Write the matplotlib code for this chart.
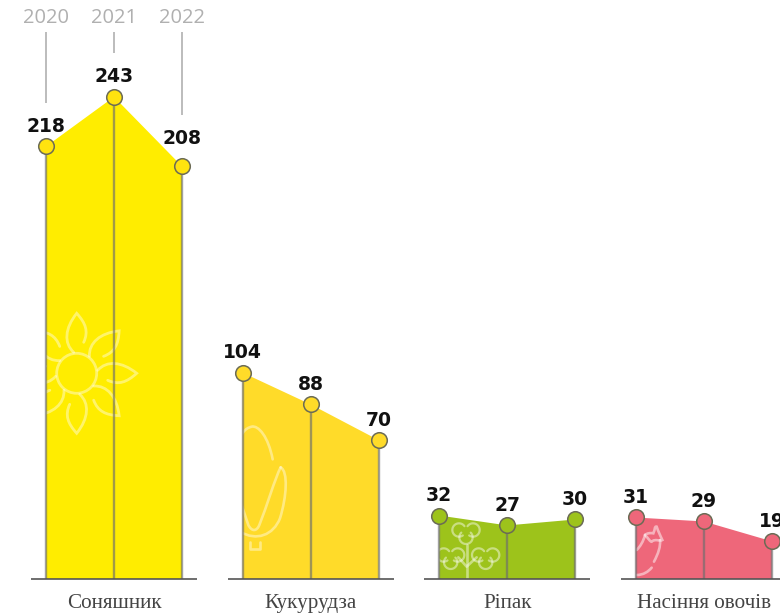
import numpy as np
import matplotlib
matplotlib.use("Agg")
import matplotlib.pyplot as plt
from matplotlib.patches import Polygon, PathPatch, Circle
from matplotlib.path import Path
from matplotlib.transforms import Affine2D

crops = ["Соняшник", "Кукурудза", "Ріпак", "Насіння овочів"]
years = ["2020", "2021", "2022"]
values = [[218, 243, 208], [104, 88, 70], [32, 27, 30], [31, 29, 19]]
fills = ["#FFED00", "#FFDB29", "#9DC31B", "#EE677A"]
marker_fills = ["#FFE30F", "#FFDB29", "#9DC31B", "#EE677A"]
year_line_ends = [240, 265, 234]
label_lift = [[0, 0, 6], [0, 0, 0], [0, 0, 0], [0, 0, 0]]

W, H = 780, 613
BASE = 579
PX_PER_UNIT = 1.984
GROUP_STEP = 196.6
YEAR_STEP = 68
FIRST_X = 46

fig = plt.figure(figsize=(W / 100, H / 100), dpi=100)
ax = fig.add_axes([0, 0, 1, 1])
ax.set_xlim(0, W)
ax.set_ylim(-(H - BASE) / PX_PER_UNIT, BASE / PX_PER_UNIT)
ax.axis("off")

# pixel space, y down, for the decorative line icons
px = Affine2D().scale(1, -1).translate(0, H)


def icon_curve(pts, ox, oy, clip, alpha=0.42, lw=1.9, scale=1 / 3):
    p = np.array(pts, dtype=float) * scale + [ox, oy]
    codes = [Path.MOVETO] + [Path.CURVE4] * (len(p) - 1)
    patch = PathPatch(Path(p, codes), fc="none", ec="white", lw=lw, alpha=alpha,
                      transform=px, zorder=2, capstyle="round")
    ax.add_patch(patch)
    patch.set_clip_path(clip)


def icon_line(pts, ox, oy, clip, alpha=0.42, lw=1.9, scale=1 / 3):
    p = np.array(pts, dtype=float) * scale + [ox, oy]
    line, = ax.plot(p[:, 0], p[:, 1], color="white", lw=lw, alpha=alpha, transform=px,
                    zorder=2, solid_capstyle="round")
    line.set_clip_path(clip)


def draw_sun(clip):
    cx, cy = 76.7, 373.3
    c = Circle((cx, cy), 20, fc="none", ec="white", lw=2, alpha=0.42, transform=px, zorder=2)
    ax.add_patch(c)
    c.set_clip_path(clip)
    petal = np.array([[-3, -21], [-13, -30], [-12, -45], [0, -60],
                      [9, -50], [12, -42], [7, -31]], dtype=float)
    for a in np.deg2rad(np.arange(0, 360, 45)):
        rot = np.array([[np.cos(a), -np.sin(a)], [np.sin(a), np.cos(a)]])
        p = petal @ rot.T
        icon_curve(p + [cx, cy], 0, 0, clip, scale=1, lw=2)


def draw_corn(clip):
    ox, oy = 220, 410
    icon_curve([(158, 148), (145, 80), (115, 45), (95, 50), (75, 55), (60, 70), (55, 110)], ox, oy, clip)
    icon_curve([(182, 172), (165, 205), (140, 290), (118, 345),
                (110, 365), (95, 365), (85, 345), (78, 325), (70, 300), (60, 270)], ox, oy, clip)
    icon_curve([(182, 172), (205, 185), (200, 260), (180, 325),
                (160, 375), (110, 395), (60, 365)], ox, oy, clip)
    icon_line([(90, 397), (90, 417), (120, 417), (120, 397)], ox, oy, clip)


def draw_rape(clip):
    ox, oy = 415, 470
    for cx, cy in [(153, 183), (107, 258), (212, 258)]:
        for dx, dy, mid in [(-21, -3, 190), (21, -3, 350), (0, 19, 90)]:
            t = np.deg2rad(np.linspace(mid - 135, mid + 135, 40))
            pts = np.c_[cx + dx + 20 * np.cos(t), cy + dy + 20 * np.sin(t)]
            icon_line(pts, ox, oy, clip, alpha=0.45, lw=1.6)
    icon_line([(155, 225), (155, 327)], ox, oy, clip, alpha=0.45)
    icon_line([(130, 262), (155, 290), (185, 262)], ox, oy, clip, alpha=0.45)


def draw_aubergine(clip):
    ox, oy = 610, 470
    icon_curve([(80, 315), (100, 315), (115, 305), (125, 293)], ox, oy, clip, alpha=0.5)
    icon_curve([(132, 275), (145, 250), (152, 230), (150, 210)], ox, oy, clip, alpha=0.5)
    icon_curve([(105, 195), (115, 205), (120, 215), (125, 215),
                (135, 205), (150, 215), (157, 210), (150, 195), (145, 185), (140, 170),
                (133, 168), (135, 180), (130, 190), (120, 188), (110, 190), (105, 195)], ox, oy, clip, alpha=0.5)
    icon_curve([(105, 195), (100, 215), (90, 230), (80, 240)], ox, oy, clip, alpha=0.5)


icons = [draw_sun, draw_corn, draw_rape, draw_aubergine]

for g, (crop, vals) in enumerate(zip(crops, values)):
    xs = [FIRST_X + g * GROUP_STEP + j * YEAR_STEP for j in range(len(vals))]
    poly = Polygon(list(zip(xs, vals)) + [(xs[-1], 0), (xs[0], 0)], closed=True,
                   fc=fills[g], ec="none", zorder=1)
    ax.add_patch(poly)
    icons[g](poly)
    ax.vlines(xs, 0, vals, color="#6e6e6e", lw=1.7, alpha=0.65, zorder=3)
    ax.plot([xs[0] - 15, xs[-1] + 15], [0, 0], color="#555555", lw=1.2, zorder=3,
            solid_capstyle="butt")
    ax.plot(xs, vals, ls="none", marker="o", ms=11.2, mfc=marker_fills[g], mec="#6b6b55",
            mew=1.1, zorder=4)
    for x, v, lift in zip(xs, vals, label_lift[g]):
        ax.annotate(str(v), (x, v), xytext=(0, 7.5 + lift), textcoords="offset points", ha="center",
                    va="bottom", fontsize=13.5, fontweight="bold", color="#111111",
                    family="DejaVu Sans", zorder=5)
    ax.annotate(crop, (xs[1], 0), xytext=(0, -17.5), textcoords="offset points", ha="center",
                va="center", fontsize=15.2, color="#444444", family="Liberation Serif")

first_xs = [FIRST_X + j * YEAR_STEP for j in range(3)]
ax.vlines(first_xs, year_line_ends, 275.5, color="#bcbcbc", lw=1.4, zorder=1)
for x, year in zip(first_xs, years):
    ax.text(x, 283, year, ha="center", va="center", fontsize=14.5, color="#b0b0b0",
            family="Open Sans")

fig.savefig("out.png", dpi=100)
